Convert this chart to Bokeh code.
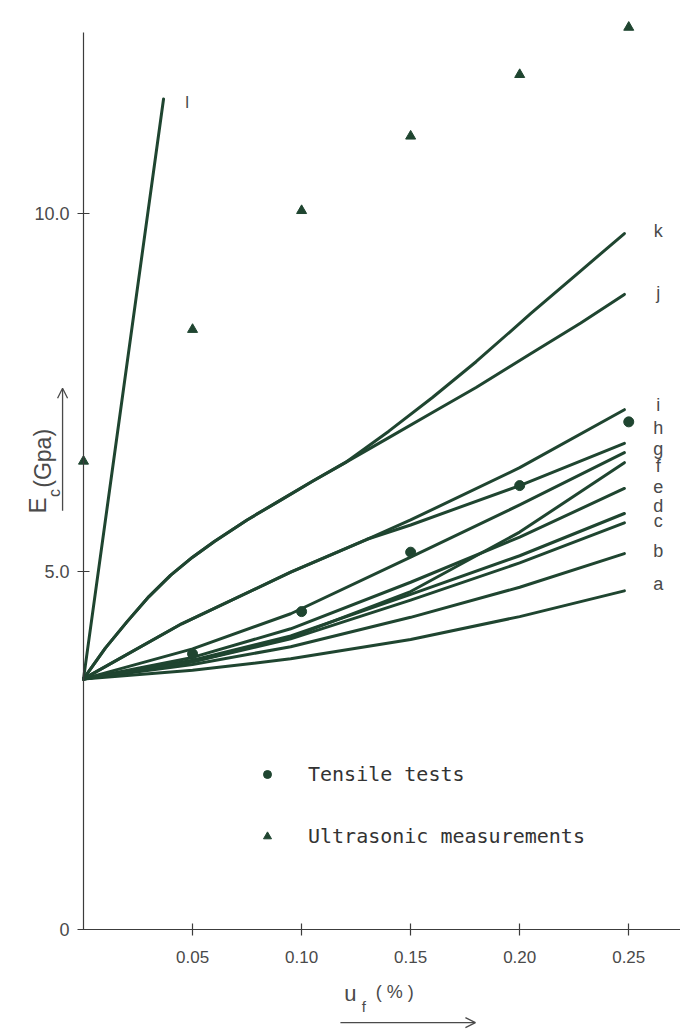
from bokeh.plotting import figure
from bokeh.models import (Range1d, FixedTicker, NumeralTickFormatter, Label, Arrow,
                          OpenHead, Legend, LegendItem, ColumnDataSource, LinearAxis)
from bokeh.core.properties import value
from bokeh.embed import file_html
from bokeh.resources import INLINE
import math

# ---------------- data ----------------
x_ticks = [0.05, 0.10, 0.15, 0.20, 0.25]
y_ticks = [0, 5, 10]
y_tick_labels = {0: "0", 5: "5.0", 10: "10.0"}

# lower bundle of curves a..g  (E_c in GPa vs u_f in %)
x_low = [0, 0.05, 0.095, 0.15, 0.20, 0.248]
E_a = [3.5, 3.62, 3.78, 4.05, 4.37, 4.73]
E_b = [3.5, 3.70, 3.95, 4.36, 4.78, 5.25]
E_c = [3.5, 3.74, 4.06, 4.60, 5.12, 5.68]
E_d = [3.5, 3.76, 4.10, 4.68, 5.22, 5.81]
E_e = [3.5, 3.80, 4.20, 4.85, 5.48, 6.16]
E_f = [3.5, 3.74, 4.08, 4.72, 5.55, 6.52]
E_g = [3.5, 3.92, 4.41, 5.20, 5.93, 6.66]

# curves h and i
x_mid = [0, 0.045, 0.095, 0.13, 0.15, 0.20, 0.248]
E_h = [3.5, 4.27, 4.99, 5.45, 5.65, 6.20, 6.79]
E_i = [3.5, 4.27, 4.99, 5.45, 5.72, 6.45, 7.26]

# curves j and k
x_top = [0, 0.01, 0.02, 0.03, 0.04, 0.05, 0.06, 0.075, 0.09, 0.105, 0.12, 0.14, 0.16,
         0.18, 0.205, 0.228, 0.248]
E_j = [3.5, 3.93, 4.30, 4.65, 4.95, 5.20, 5.42, 5.72, 5.99, 6.26, 6.52, 6.87, 7.22,
       7.57, 8.04, 8.47, 8.87]
E_k = [3.5, 3.93, 4.30, 4.65, 4.95, 5.20, 5.42, 5.72, 5.99, 6.26, 6.52, 6.96, 7.43,
       7.93, 8.60, 9.20, 9.72]

# curve l
x_l = [0, 0.0367]
E_l = [3.5, 11.6]

# measurements
tensile_x = [0.05, 0.10, 0.15, 0.20, 0.25]
tensile_E = [3.85, 4.44, 5.27, 6.20, 7.09]
ultra_x = [0, 0.05, 0.10, 0.15, 0.20, 0.25]
ultra_E = [6.54, 8.38, 10.04, 11.08, 11.94, 12.60]

curves = [("a", x_low, E_a), ("b", x_low, E_b), ("c", x_low, E_c), ("d", x_low, E_d),
          ("e", x_low, E_e), ("f", x_low, E_f), ("g", x_low, E_g),
          ("h", x_mid, E_h), ("i", x_mid, E_i), ("j", x_top, E_j), ("k", x_top, E_k)]

# ---------------- styling ----------------
INK = "#1f4530"
TXT = "#4a4a4a"
AX = "#3c3c3c"
FONT = "Liberation Sans"

p = figure(width=680, height=1034, x_range=Range1d(-0.03806, 0.27373),
           y_range=Range1d(-1.4665, 12.975),
           output_backend="svg", toolbar_location=None,
           x_axis_location=None, y_axis_location=None,
           min_border_left=0, min_border_right=0, min_border_top=0, min_border_bottom=0)
p.outline_line_color = None
p.xgrid.visible = False
p.ygrid.visible = False
p.background_fill_color = "white"

xax = LinearAxis(fixed_location=0, bounds=(0, 0.2737), ticker=FixedTicker(ticks=x_ticks),
                 formatter=NumeralTickFormatter(format="0.00"))
yax = LinearAxis(fixed_location=0, bounds=(0, 12.53), ticker=FixedTicker(ticks=y_ticks),
                 major_label_overrides=y_tick_labels)
for ax in (xax, yax):
    ax.axis_line_color = AX
    ax.axis_line_width = 1.2
    ax.major_tick_line_color = AX
    ax.major_tick_line_width = 1.2
    ax.major_tick_in = 6
    ax.major_tick_out = 6
    ax.minor_tick_line_color = None
    ax.major_label_text_font = FONT
    ax.major_label_text_color = TXT
xax.major_label_text_font_size = "17px"
xax.major_label_standoff = 16
yax.major_label_text_font_size = "18px"
yax.major_label_standoff = 8
p.add_layout(xax, "below")
p.add_layout(yax, "left")

# curves
for name, xs, ys in curves:
    p.line(xs, ys, line_color=INK, line_width=3, line_join="round", line_cap="round")
p.line(x_l, E_l, line_color=INK, line_width=3, line_cap="round")

# curve labels
label_dy = {"a": -7, "b": -3, "c": -2, "d": -8, "e": -2, "f": 3, "g": -4, "h": -15,
            "i": -5, "j": -1, "k": -3}
src = ColumnDataSource(dict(
    x=[0.2635] * len(curves),
    y=[c[2][-1] for c in curves],
    t=[c[0] for c in curves],
    dy=[label_dy[c[0]] for c in curves],
))
p.text(x="x", y="y", text="t", y_offset="dy", source=src, text_font=value(FONT),
       text_font_size="18px", text_color=TXT, text_align="center", text_baseline="middle")
p.add_layout(Label(x=0.0475, y=11.55, text="l", text_font=FONT, text_font_size="17px",
                   text_color=TXT, text_align="center", text_baseline="middle"))

# measurements
r_circ = p.scatter(tensile_x, tensile_E, marker="circle", size=10, fill_color=INK,
                   line_color=INK, line_width=1)
r_tri = p.scatter(ultra_x, ultra_E, marker="triangle", size=10, fill_color=INK,
                  line_color=INK, line_width=1)

leg = Legend(items=[LegendItem(label="Tensile tests", renderers=[r_circ]),
                    LegendItem(label="Ultrasonic measurements", renderers=[r_tri])],
             location=(257, 186), padding=0, margin=0, spacing=38,
             glyph_width=20, glyph_height=20, label_height=20, label_standoff=31,
             border_line_color=None, background_fill_alpha=0,
             label_text_font="DejaVu Sans Mono", label_text_font_size="20px",
             label_text_color="#333333")
p.add_layout(leg)

# x axis title u_f (%) with arrow
p.add_layout(Label(x=0.1224, y=-0.89, text="u", text_font=FONT, text_font_size="22px",
                   text_color=TXT, text_align="center", text_baseline="middle"))
p.add_layout(Label(x=0.1285, y=-1.08, text="f", text_font=FONT, text_font_size="15px",
                   text_color=TXT, text_align="center", text_baseline="middle"))
p.add_layout(Label(x=0.134, y=-0.87, text="( % )", text_font=FONT, text_font_size="18px",
                   text_color=TXT, text_align="left", text_baseline="middle"))
p.add_layout(Arrow(x_start=0.1178, y_start=-1.30, x_end=0.1797, y_end=-1.30,
                   line_color=TXT, line_width=1.3,
                   end=OpenHead(size=10, line_color=TXT, line_width=1.3)))

# y axis title E_c (Gpa) with arrow
p.add_layout(Label(x=-0.0211, y=5.81, text="E", text_font=FONT, text_font_size="24px",
                   text_color=TXT, text_align="left", text_baseline="middle", angle=math.pi / 2))
p.add_layout(Label(x=-0.0135, y=6.04, text="c", text_font=FONT, text_font_size="16px",
                   text_color=TXT, text_align="left", text_baseline="middle", angle=math.pi / 2))
p.add_layout(Label(x=-0.0185, y=6.17, text="(Gpa)", text_font=FONT, text_font_size="23px",
                   text_color=TXT, text_align="left", text_baseline="middle", angle=math.pi / 2))
p.add_layout(Arrow(x_start=-0.0096, y_start=5.85, x_end=-0.0096, y_end=7.56,
                   line_color=TXT, line_width=1.3,
                   end=OpenHead(size=10, line_color=TXT, line_width=1.3)))

open("out.html", "w").write(file_html(p, INLINE))
